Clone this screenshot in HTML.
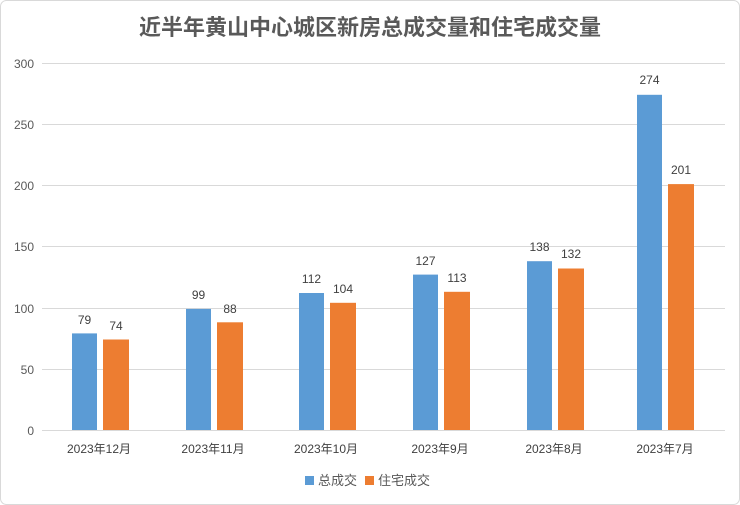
<!DOCTYPE html>
<html><head><meta charset="utf-8"><style>
body{margin:0;background:#fff;}
svg{display:block;font-family:"Liberation Sans","Noto Sans CJK SC",sans-serif;}
</style></head><body>
<svg width="740" height="505" viewBox="0 0 740 505">
<rect x="0.5" y="0.5" width="739" height="504" rx="6" fill="#fff" stroke="#d9d9d9"/>
<text x="370" y="35" text-anchor="middle" font-size="22" font-weight="bold" fill="#595959">近半年黄山中心城区新房总成交量和住宅成交量</text>
<g stroke="#d9d9d9" stroke-width="1">
<line x1="42" x2="725" y1="63.5" y2="63.5"/>
<line x1="42" x2="725" y1="124.5" y2="124.5"/>
<line x1="42" x2="725" y1="185.5" y2="185.5"/>
<line x1="42" x2="725" y1="246.5" y2="246.5"/>
<line x1="42" x2="725" y1="308.5" y2="308.5"/>
<line x1="42" x2="725" y1="369.5" y2="369.5"/>
<line x1="42" x2="725" y1="430.5" y2="430.5"/>
</g>
<g font-size="12" fill="#595959" text-anchor="end">
<text x="34" y="68">300</text><text x="34" y="129">250</text><text x="34" y="190">200</text>
<text x="34" y="251">150</text><text x="34" y="313">100</text><text x="34" y="374">50</text><text x="34" y="435">0</text>
</g>
<g font-size="12" fill="#404040" text-anchor="middle">
<rect x="72" y="333.4" width="25" height="96.6" fill="#5b9bd5"/>
<rect x="103" y="339.5" width="26" height="90.5" fill="#ed7d31"/>
<text x="84.5" y="324">79</text><text x="116" y="330">74</text>
<text x="99" y="453">2023年12月</text>
<rect x="186" y="308.9" width="25" height="121.1" fill="#5b9bd5"/>
<rect x="217" y="322.3" width="26" height="107.7" fill="#ed7d31"/>
<text x="198.5" y="299">99</text><text x="230" y="313">88</text>
<text x="213" y="453">2023年11月</text>
<rect x="299" y="293" width="25" height="137" fill="#5b9bd5"/>
<rect x="330" y="302.8" width="26" height="127.2" fill="#ed7d31"/>
<text x="311.5" y="283">112</text><text x="343" y="293">104</text>
<text x="326" y="453">2023年10月</text>
<rect x="413" y="274.6" width="25" height="155.4" fill="#5b9bd5"/>
<rect x="444" y="291.8" width="26" height="138.2" fill="#ed7d31"/>
<text x="425.5" y="265">127</text><text x="457" y="282">113</text>
<text x="440" y="453">2023年9月</text>
<rect x="527" y="261.2" width="25" height="168.8" fill="#5b9bd5"/>
<rect x="558" y="268.5" width="26" height="161.5" fill="#ed7d31"/>
<text x="539.5" y="251">138</text><text x="571" y="258">132</text>
<text x="554" y="453">2023年8月</text>
<rect x="637" y="94.8" width="25" height="335.2" fill="#5b9bd5"/>
<rect x="668" y="184.1" width="26" height="245.9" fill="#ed7d31"/>
<text x="649.5" y="84">274</text><text x="681" y="174">201</text>
<text x="665" y="453">2023年7月</text>
</g>
<rect x="305" y="476" width="9" height="9" fill="#5b9bd5"/>
<text x="318" y="485" font-size="13" fill="#595959">总成交</text>
<rect x="365" y="476" width="9" height="9" fill="#ed7d31"/>
<text x="378" y="485" font-size="13" fill="#595959">住宅成交</text>
</svg>
</body></html>
